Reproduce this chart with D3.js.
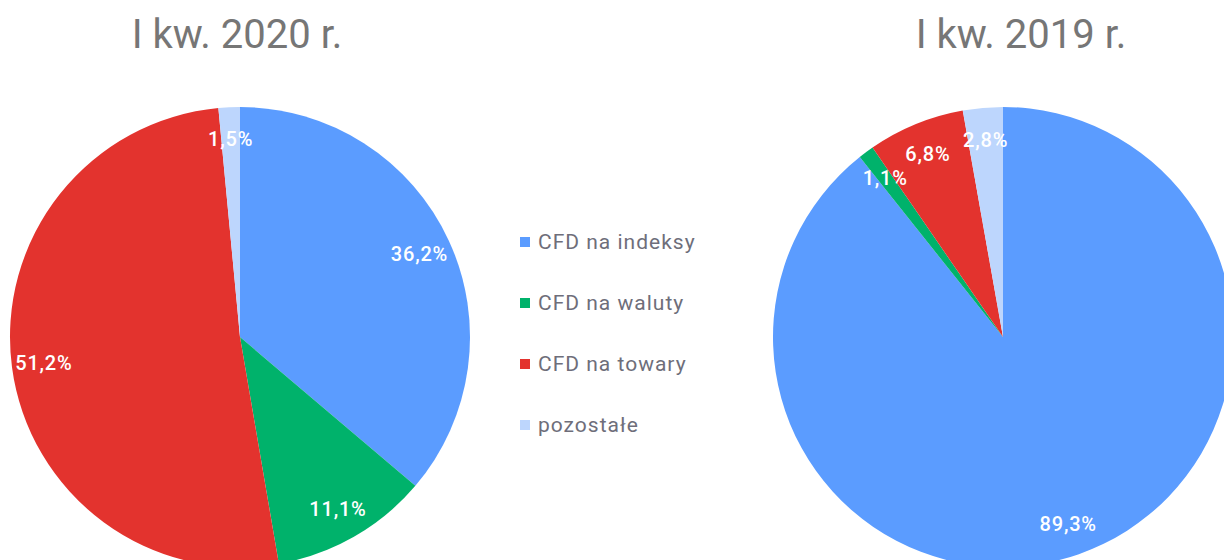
<!DOCTYPE html>
<html>
<head>
<meta charset="utf-8">
<script src="https://cdn.jsdelivr.net/npm/d3@7"></script>
<style>
  body { margin: 0; background: #fff; }
  text { font-family: Roboto, "Noto Sans", sans-serif; }
</style>
</head>
<body>
<div id="chart"></div>
<script>
// categories and values
const categories = ["CFD na indeksy", "CFD na waluty", "CFD na towary", "pozostałe"];
const colors = ["#5b9cff", "#00b26b", "#e3332e", "#bdd6fd"];
const titles = ["I kw. 2020 r.", "I kw. 2019 r."];
const values2020 = [36.2, 11.1, 51.2, 1.5];
const values2019 = [89.3, 1.1, 6.8, 2.8];

const width = 1224, height = 560;
const radius = 230;

const svg = d3.select("#chart")
    .append("svg")
    .attr("width", width)
    .attr("height", height);

const fmt = v => d3.format(".1f")(v).replace(".", ",") + "%";

const pie = d3.pie().sort(null).value(d => d);
const arc = d3.arc().innerRadius(0).outerRadius(radius);
const labelArc = d3.arc().innerRadius(radius * 0.86).outerRadius(radius * 0.86);

// one pie per quarter
const pies = [
    { title: titles[0], values: values2020, cx: 240, tx: 237 },
    { title: titles[1], values: values2019, cx: 1003, tx: 1021 }
];

pies.forEach(function (p) {
    svg.append("text")
        .attr("x", p.tx)
        .attr("y", 48)
        .attr("text-anchor", "middle")
        .style("font-size", "40px")
        .style("fill", "#767676")
        .text(p.title);

    const g = svg.append("g")
        .attr("transform", "translate(" + p.cx + ",337)");

    const arcs = pie(p.values);

    g.selectAll("path")
        .data(arcs)
        .join("path")
        .attr("d", arc)
        .style("fill", (d, i) => colors[i])
        .style("stroke", "none");

    g.selectAll("text")
        .data(arcs)
        .join("text")
        .attr("transform", d => "translate(" + labelArc.centroid(d) + ")")
        .attr("text-anchor", "middle")
        .attr("dy", "0.35em")
        .style("font-size", "20px")
        .style("font-weight", 500)
        .style("letter-spacing", "0.8px")
        .style("fill", "#fff")
        .text(d => fmt(d.data));
});

// legend in the middle
const legend = svg.append("g")
    .selectAll("g")
    .data(categories)
    .join("g")
    .attr("transform", (d, i) => "translate(520," + (242 + i * 61) + ")");

legend.append("rect")
    .attr("x", 0)
    .attr("y", -5)
    .attr("width", 10)
    .attr("height", 10)
    .style("fill", (d, i) => colors[i]);

legend.append("text")
    .attr("x", 18)
    .attr("dy", "0.35em")
    .style("font-size", "21px")
    .style("letter-spacing", "1px")
    .style("fill", "#6e6e7a")
    .text(d => d);
</script>
</body>
</html>
